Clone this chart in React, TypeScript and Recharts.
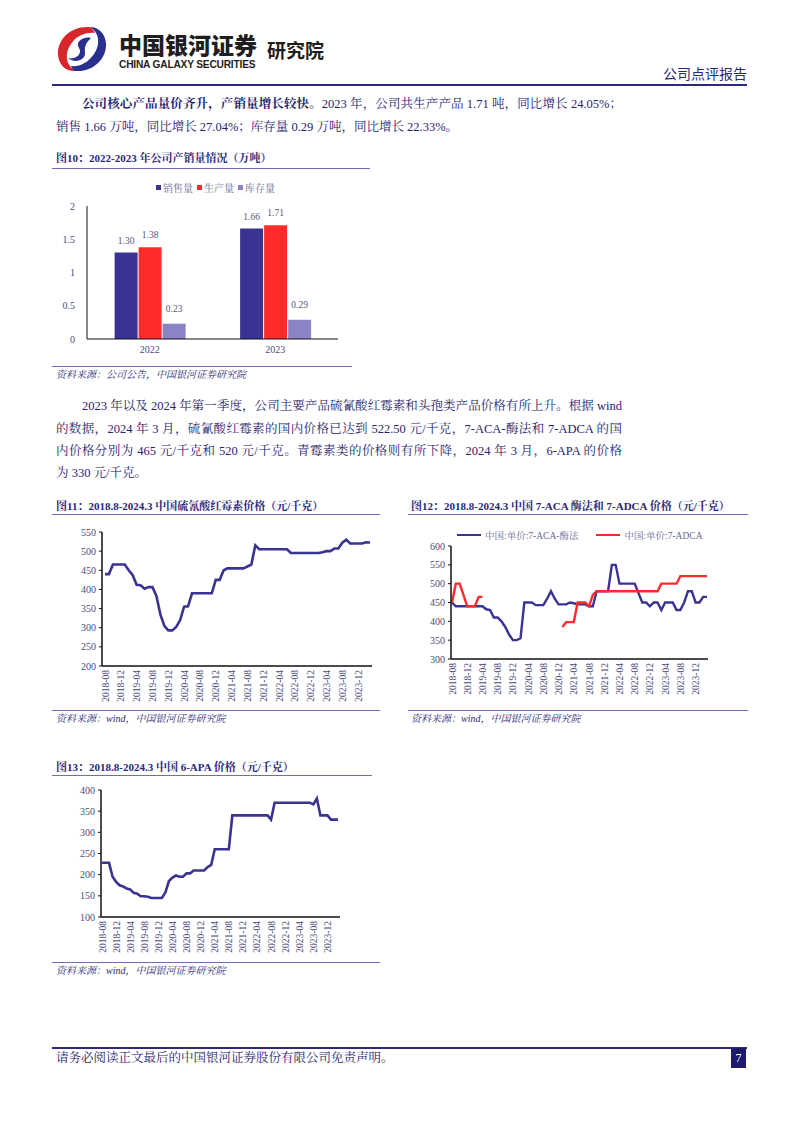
import React from 'react';
import { BarChart, Bar, LineChart, Line, XAxis, YAxis, Legend, LabelList } from 'recharts';

// ---------- data ----------
const years = ['2022', '2023'];
const salesVolume = [1.3, 1.66];
const productionVolume = [1.38, 1.71];
const inventoryVolume = [0.23, 0.29];
const fig10SeriesNames = ['销售量', '生产量', '库存量'];
const fig10Ticks = [0, 0.5, 1, 1.5, 2];

const months = [
  '2018-08', '2018-09', '2018-10', '2018-11', '2018-12',
  '2019-01', '2019-02', '2019-03', '2019-04', '2019-05', '2019-06', '2019-07', '2019-08', '2019-09', '2019-10', '2019-11', '2019-12',
  '2020-01', '2020-02', '2020-03', '2020-04', '2020-05', '2020-06', '2020-07', '2020-08', '2020-09', '2020-10', '2020-11', '2020-12',
  '2021-01', '2021-02', '2021-03', '2021-04', '2021-05', '2021-06', '2021-07', '2021-08', '2021-09', '2021-10', '2021-11', '2021-12',
  '2022-01', '2022-02', '2022-03', '2022-04', '2022-05', '2022-06', '2022-07', '2022-08', '2022-09', '2022-10', '2022-11', '2022-12',
  '2023-01', '2023-02', '2023-03', '2023-04', '2023-05', '2023-06', '2023-07', '2023-08', '2023-09', '2023-10', '2023-11', '2023-12',
  '2024-01', '2024-02', '2024-03',
];

// 硫氰酸红霉素
const erythromycinPrice = [
  440, 440, 465, 465, 465, 465, 450, 437, 412, 411,
  402, 406, 406, 383, 335, 305, 293, 293, 302, 320,
  355, 356, 390, 390, 390, 390, 390, 390, 425, 425,
  450, 455, 455, 455, 455, 455, 460, 465, 515, 505,
  505, 505, 505, 505, 505, 505, 505, 495, 495, 495,
  495, 495, 495, 495, 495, 497, 500, 500, 507, 507,
  522, 530, 520, 520, 520, 520, 523, 522.5,
];
const fig11Ticks = [200, 250, 300, 350, 400, 450, 500, 550];

// 7-ACA 酶法
const aca7Price = [
  450, 440, 440, 440, 440, 440, 440, 440, 440, 432,
  430, 410, 410, 400, 385, 365, 350, 350, 355, 450,
  450, 450, 443, 443, 443, 460, 480, 460, 445, 445,
  445, 450, 448, 445, 445, 445, 440, 440, 480, 480,
  480, 480, 550, 550, 500, 500, 500, 500, 500, 475,
  450, 450, 440, 450, 450, 430, 450, 450, 450, 430,
  430, 450, 480, 480, 450, 450, 465, 465,
];
// 7-ADCA
const adca7Price = [
  450, 500, 500, 470, 440, 440, 440, 465, 465, null,
  null, null, null, null, null, null, null, null, null, null,
  null, null, null, null, null, null, null, null, null, 385,
  398, 398, 398, 450, 450, 450, 440, 470, 480, 480,
  480, 480, 480, 480, 480, 480, 480, 480, 480, 480,
  480, 480, 480, 480, 480, 500, 500, 500, 500, 500,
  520, 520, 520, 520, 520, 520, 520, 520,
];
const fig12SeriesNames = ['中国:单价:7-ACA-酶法', '中国:单价:7-ADCA'];
const fig12Ticks = [300, 350, 400, 450, 500, 550, 600];

// 6-APA
const apa6Price = [
  228, 228, 228, 195, 183, 175, 172, 167, 165, 157,
  155, 149, 149, 148, 145, 145, 145, 145, 158, 185,
  193, 198, 195, 195, 203, 203, 210, 210, 210, 210,
  218, 223, 260, 260, 260, 260, 260, 340, 340, 340,
  340, 340, 340, 340, 340, 340, 340, 340, 330, 370,
  370, 370, 370, 370, 370, 370, 370, 370, 370, 370,
  366, 380, 340, 340, 340, 330, 330, 330,
];
const fig13Ticks = [100, 150, 200, 250, 300, 350, 400];

// ---------- tables ----------
const fig10Data = years.map((y, i) => ({
  year: y,
  sales: salesVolume[i],
  production: productionVolume[i],
  inventory: inventoryVolume[i],
}));
const fig11Data = months.map((m, i) => ({ month: m, price: erythromycinPrice[i] }));
const fig12Data = months.map((m, i) => ({ month: m, aca: aca7Price[i], adca: adca7Price[i] }));
const fig13Data = months.map((m, i) => ({ month: m, price: apa6Price[i] }));

// ---------- styles ----------
const SERIF = '"Liberation Serif", "Times New Roman", "Noto Serif CJK SC", "Noto Sans CJK SC", serif';
const CJK = '"Noto Sans CJK SC", sans-serif';
const NAVY = '#2A2776';
const TEXT = '#27246C';
const TICK = '#4B4A7E';
const RULE = '#6F6CB8';
const LINE_BLUE = '#3A3391';
const RED = '#FF2B2B';
const LAVENDER = '#8A84C4';

const abs = (top: number, left: number, extra: React.CSSProperties = {}): React.CSSProperties => ({
  position: 'absolute',
  top,
  left,
  ...extra,
});

function RotTick(props: any) {
  const { x, y, payload } = props;
  return (
    <text
      x={x}
      y={y}
      transform={`rotate(-90 ${x} ${y})`}
      textAnchor="end"
      dy={3.5}
      fontSize={9.5}
      fill={TICK}
      fontFamily={SERIF}
    >
      {payload.value}
    </text>
  );
}

const yTickStyle = { fontSize: 10, fill: TICK, fontFamily: SERIF };

const orderBy = (payload: any[], names: string[]) =>
  [...(payload || [])].sort((a, b) => names.indexOf(a.value) - names.indexOf(b.value));

function Fig10Legend(props: any) {
  const items = orderBy(props.payload, fig10SeriesNames);
  return (
    <div style={{ display: 'flex', gap: 4, fontFamily: SERIF, fontSize: 10, color: '#6A6895', whiteSpace: 'nowrap' }}>
      {items.map((p: any) => (
        <span key={p.value} style={{ display: 'flex', alignItems: 'center' }}>
          <span style={{ display: 'inline-block', width: 5, height: 5, background: p.color, marginRight: 2 }} />
          {p.value}
        </span>
      ))}
    </div>
  );
}

function Fig12Legend(props: any) {
  const items = orderBy(props.payload, fig12SeriesNames);
  return (
    <div style={{ display: 'flex', gap: 18, fontFamily: SERIF, fontSize: 9.5, color: '#6A6895', whiteSpace: 'nowrap' }}>
      {items.map((p: any) => (
        <span key={p.value} style={{ display: 'flex', alignItems: 'center' }}>
          <span style={{ display: 'inline-block', width: 24, height: 2.5, background: p.color, marginRight: 4 }} />
          {p.value}
        </span>
      ))}
    </div>
  );
}

function Rule({ top, left, width, color = RULE, h = 1 }: { top: number; left: number; width: number; color?: string; h?: number }) {
  return <div style={abs(top, left, { width, height: h, background: color })} />;
}

function FigTitle({ top, left, children }: { top: number; left: number; children: React.ReactNode }) {
  return (
    <div style={abs(top, left, { fontSize: 11, fontWeight: 700, color: NAVY, whiteSpace: 'nowrap', lineHeight: '14px', fontFamily: SERIF })}>
      {children}
    </div>
  );
}

function Source({ top, left, children }: { top: number; left: number; children: React.ReactNode }) {
  return (
    <div style={abs(top, left, { fontSize: 10, fontStyle: 'italic', color: NAVY, whiteSpace: 'nowrap', lineHeight: '13px', fontFamily: SERIF })}>
      {children}
    </div>
  );
}

function TextLine({ top, left, width, justify = true, children }: { top: number; left: number; width: number; justify?: boolean; children: React.ReactNode }) {
  return (
    <div
      style={abs(top, left, {
        width,
        height: 22,
        lineHeight: '22px',
        fontSize: 12.5,
        whiteSpace: 'nowrap',
        textAlign: justify ? 'justify' : 'left',
        textAlignLast: justify ? 'justify' : 'left',
        color: TEXT,
        fontFamily: SERIF,
      } as React.CSSProperties)}
    >
      {children}
    </div>
  );
}

function Logo() {
  return (
    <svg width={54} height={50} viewBox="0 0 54 50" style={abs(24, 55)}>
      <path d="M34 3 C16 2 2 15 3 31 C4 42 12 48 21 47 C11 42 9 30 16 20 C22 11 31 8 40 9 C38 5 36 3 34 3 Z" fill="#D8262C" />
      <path d="M21 47 C38 48 52 35 51 19 C50 9 43 3 35 3 C44 8 46 20 39 30 C33 39 24 43 16 42 C17 45 19 47 21 47 Z" fill="#2B2F8E" />
      <path d="M36 14 C28 12 20 18 24 24 C28 30 20 36 13 34 C20 40 31 36 30 28 C29 21 33 17 36 14 Z" fill="#2B2F8E" />
    </svg>
  );
}

export default function App() {
  return (
    <div style={{ position: 'absolute', top: 0, left: 0, width: 802, height: 1133, background: '#fff', fontFamily: SERIF, overflow: 'hidden' }}>
      {/* ---------- header ---------- */}
      <Logo />
      <div style={abs(30, 119, { fontFamily: CJK, fontWeight: 900, fontSize: 23, color: '#1E1E22', letterSpacing: 0, lineHeight: '28px', whiteSpace: 'nowrap' })}>
        中国银河证券
      </div>
      <div style={abs(59, 119, { fontFamily: '"Liberation Sans", Arial, sans-serif', fontWeight: 700, fontSize: 10.2, color: '#1E1E22', letterSpacing: -0.2, lineHeight: '12px', whiteSpace: 'nowrap' })}>
        CHINA GALAXY SECURITIES
      </div>
      <div style={abs(38, 267, { fontFamily: CJK, fontWeight: 700, fontSize: 19, color: '#1E1E22', lineHeight: '24px', whiteSpace: 'nowrap' })}>
        研究院
      </div>
      <div style={abs(63, 663, { fontFamily: CJK, fontSize: 14, color: NAVY, lineHeight: '20px', whiteSpace: 'nowrap', width: 84, textAlign: 'right' })}>
        公司点评报告
      </div>
      <Rule top={84} left={52} width={695} color="#2E2A7A" h={1.5} />

      {/* ---------- paragraph 1 ---------- */}
      <TextLine top={93} left={82} width={540}>
        <b>公司核心产品量价齐升，产销量增长较快。</b>2023 年，公司共生产产品 1.71 吨，同比增长 24.05%；
      </TextLine>
      <TextLine top={116} left={56} width={566} justify={false}>
        销售 1.66 万吨，同比增长 27.04%；库存量 0.29 万吨，同比增长 22.33%。
      </TextLine>

      {/* ---------- figure 10 ---------- */}
      <FigTitle top={151} left={56}>图10：2022-2023 年公司产销量情况（万吨）</FigTitle>
      <Rule top={168} left={52} width={318} />
      <div style={abs(175, 52)}>
        <BarChart width={300} height={190} data={fig10Data} margin={{ top: 16, right: 14, left: 0, bottom: 0 }} barCategoryGap="22%" barGap={1}>
          <Legend verticalAlign="top" content={<Fig10Legend />} wrapperStyle={{ top: 5, left: 104, width: 'auto' }} />
          <XAxis
            dataKey="year"
            height={26}
            tickLine={false}
            tickSize={4}
            tickMargin={3}
            axisLine={{ stroke: '#111', strokeWidth: 1 }}
            tick={{ fontSize: 10, fill: TICK, fontFamily: SERIF }}
          />
          <YAxis
            width={35}
            domain={[0, 2]}
            ticks={fig10Ticks}
            tickLine={false}
            tickMargin={6}
            axisLine={{ stroke: '#111', strokeWidth: 1 }}
            tick={yTickStyle}
          />
          <Bar dataKey="sales" name={fig10SeriesNames[0]} fill={LINE_BLUE} isAnimationActive={false}>
            <LabelList dataKey="sales" position="top" offset={9} formatter={(v: any) => Number(v).toFixed(2)} style={{ fontSize: 9.5, fill: '#555577', fontFamily: SERIF }} />
          </Bar>
          <Bar dataKey="production" name={fig10SeriesNames[1]} fill={RED} isAnimationActive={false}>
            <LabelList dataKey="production" position="top" offset={9} formatter={(v: any) => Number(v).toFixed(2)} style={{ fontSize: 9.5, fill: '#555577', fontFamily: SERIF }} />
          </Bar>
          <Bar dataKey="inventory" name={fig10SeriesNames[2]} fill={LAVENDER} isAnimationActive={false}>
            <LabelList dataKey="inventory" position="top" offset={12} formatter={(v: any) => Number(v).toFixed(2)} style={{ fontSize: 9.5, fill: '#555577', fontFamily: SERIF }} />
          </Bar>
        </BarChart>
      </div>
      <Rule top={366} left={52} width={300} />
      <Source top={368} left={56}>资料来源：公司公告，中国银河证券研究院</Source>

      {/* ---------- paragraph 2 ---------- */}
      <TextLine top={395} left={82} width={540}>
        2023 年以及 2024 年第一季度，公司主要产品硫氰酸红霉素和头孢类产品价格有所上升。根据 wind
      </TextLine>
      <TextLine top={418} left={56} width={566}>
        的数据，2024 年 3 月，硫氰酸红霉素的国内价格已达到 522.50 元/千克，7-ACA-酶法和 7-ADCA 的国
      </TextLine>
      <TextLine top={440} left={56} width={566}>
        内价格分别为 465 元/千克和 520 元/千克。青霉素类的价格则有所下降，2024 年 3 月，6-APA 的价格
      </TextLine>
      <TextLine top={462} left={56} width={566} justify={false}>
        为 330 元/千克。
      </TextLine>

      {/* ---------- figure 11 ---------- */}
      <FigTitle top={499} left={56}>图11：2018.8-2024.3 中国硫氰酸红霉素价格（元/千克）</FigTitle>
      <Rule top={514} left={52} width={328} />
      <div style={abs(520, 52)}>
        <LineChart width={330} height={200} data={fig11Data} margin={{ top: 12, right: 10, left: 0, bottom: 0 }}>
          <XAxis
            dataKey="month"
            interval={3}
            height={54}
            tickLine={false}
            tickSize={2}
            tickMargin={2}
            padding={{ left: 3, right: 2 }}
            axisLine={{ stroke: '#111', strokeWidth: 1.5 }}
            tick={<RotTick />}
          />
          <YAxis
            width={50}
            domain={[200, 550]}
            ticks={fig11Ticks}
            tickSize={3}
            tickMargin={3}
            tickLine={{ stroke: '#111' }}
            axisLine={{ stroke: '#111', strokeWidth: 1.5 }}
            tick={yTickStyle}
          />
          <Line type="linear" dataKey="price" stroke={LINE_BLUE} strokeWidth={2.6} dot={false} isAnimationActive={false} />
        </LineChart>
      </div>
      <Rule top={710} left={52} width={328} />
      <Source top={712} left={56}>资料来源：wind，中国银河证券研究院</Source>

      {/* ---------- figure 12 ---------- */}
      <FigTitle top={499} left={411}>图12：2018.8-2024.3 中国 7-ACA 酶法和 7-ADCA 价格（元/千克）</FigTitle>
      <Rule top={514} left={408} width={340} />
      <div style={abs(525, 405)}>
        <LineChart width={345} height={185} data={fig12Data} margin={{ top: 7, right: 42, left: 0, bottom: 0 }}>
          <Legend verticalAlign="top" content={<Fig12Legend />} wrapperStyle={{ top: 3, left: 52, width: 'auto' }} />
          <XAxis
            dataKey="month"
            interval={3}
            height={51}
            tickLine={false}
            tickSize={2}
            tickMargin={2}
            padding={{ left: 1, right: 1 }}
            axisLine={{ stroke: '#111', strokeWidth: 1.5 }}
            tick={<RotTick />}
          />
          <YAxis
            width={46}
            domain={[300, 600]}
            ticks={fig12Ticks}
            tickSize={3}
            tickMargin={3}
            tickLine={{ stroke: '#111' }}
            axisLine={{ stroke: '#111', strokeWidth: 1.5 }}
            tick={yTickStyle}
          />
          <Line type="linear" dataKey="aca" name={fig12SeriesNames[0]} stroke={LINE_BLUE} strokeWidth={2.4} dot={false} isAnimationActive={false} />
          <Line type="linear" dataKey="adca" name={fig12SeriesNames[1]} stroke={RED} strokeWidth={2.4} dot={false} isAnimationActive={false} />
        </LineChart>
      </div>
      <Rule top={710} left={408} width={340} />
      <Source top={712} left={411}>资料来源：wind，中国银河证券研究院</Source>

      {/* ---------- figure 13 ---------- */}
      <FigTitle top={760} left={56}>图13：2018.8-2024.3 中国 6-APA 价格（元/千克）</FigTitle>
      <Rule top={775} left={52} width={320} />
      <div style={abs(780, 52)}>
        <LineChart width={300} height={180} data={fig13Data} margin={{ top: 10, right: 12, left: 0, bottom: 0 }}>
          <XAxis
            dataKey="month"
            interval={3}
            height={43}
            tickLine={false}
            tickSize={2}
            tickMargin={2}
            padding={{ left: 1, right: 2 }}
            axisLine={{ stroke: '#111', strokeWidth: 1.5 }}
            tick={<RotTick />}
          />
          <YAxis
            width={49}
            domain={[100, 400]}
            ticks={fig13Ticks}
            tickSize={3}
            tickMargin={3}
            tickLine={{ stroke: '#111' }}
            axisLine={{ stroke: '#111', strokeWidth: 1.5 }}
            tick={yTickStyle}
          />
          <Line type="linear" dataKey="price" stroke={LINE_BLUE} strokeWidth={2.6} dot={false} isAnimationActive={false} />
        </LineChart>
      </div>
      <Rule top={962} left={52} width={328} />
      <Source top={964} left={56}>资料来源：wind，中国银河证券研究院</Source>

      {/* ---------- footer ---------- */}
      <Rule top={1047} left={52} width={695} color="#2E2A7A" h={1.5} />
      <div style={abs(1050, 56, { fontSize: 12.5, color: TEXT, lineHeight: '16px', whiteSpace: 'nowrap', fontFamily: SERIF })}>
        请务必阅读正文最后的中国银河证券股份有限公司免责声明。
      </div>
      <div style={abs(1048, 731, { width: 15, height: 20, background: '#1E1A6E', color: '#fff', fontSize: 12, lineHeight: '20px', textAlign: 'center', fontFamily: SERIF })}>
        7
      </div>
    </div>
  );
}
